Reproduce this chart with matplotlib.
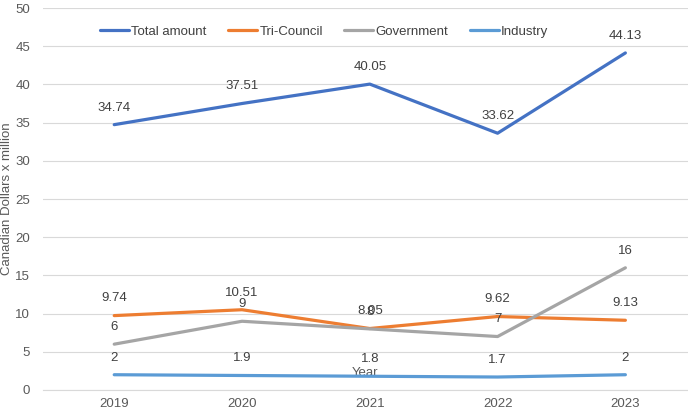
import matplotlib.pyplot as plt

plt.rcParams['font.family'] = ['Liberation Sans', 'DejaVu Sans']

years = ["2019", "2020", "2021", "2022", "2023"]
total = [34.74, 37.51, 40.05, 33.62, 44.13]
tri_council = [9.74, 10.51, 8.05, 9.62, 9.13]
government = [6, 9, 8, 7, 16]
industry = [2, 1.9, 1.8, 1.7, 2]

series = [
    ("Total amount", total, "#4472C4"),
    ("Tri-Council", tri_council, "#ED7D31"),
    ("Government", government, "#A5A5A5"),
    ("Industry", industry, "#5B9BD5"),
]

fig = plt.figure(figsize=(6.88, 4.16), dpi=100)
ax = fig.add_axes([0.062, 0.0625, 0.938, 0.918])

x = range(len(years))
for name, vals, color in series:
    ax.plot(x, vals, color=color, linewidth=2.3, label=name, solid_capstyle="round")
    for xi, v in zip(x, vals):
        ax.annotate(f"{v:g}", (xi, v), xytext=(0, 8), textcoords="offset points",
                    ha="center", va="bottom", fontsize=9.5, color="#404040")

ax.set_xlim(-0.56, 4.49)
ax.set_ylim(0, 50)
ax.set_yticks(range(0, 51, 5))
ax.set_xticks(list(x))
ax.set_xticklabels(years)
ax.tick_params(length=0, labelsize=9.5, colors="#595959")
ax.tick_params(axis="x", pad=6)
ax.tick_params(axis="y", pad=9)
ax.grid(axis="y", color="#D9D9D9", linewidth=0.8)
ax.set_axisbelow(True)
for s in ["top", "right", "left"]:
    ax.spines[s].set_visible(False)
ax.spines["bottom"].set_color("#D9D9D9")

ax.set_xlabel("Year", fontsize=9.5, color="#595959")
ax.xaxis.set_label_coords(0.5, 0.06)
ax.set_ylabel("Canadian Dollars x million", fontsize=9.5, color="#595959")
ax.yaxis.set_label_coords(-0.046, 0.5)

ax.legend(loc="upper center", bbox_to_anchor=(0.436, 0.985), ncol=4, frameon=False,
          fontsize=9.5, handlelength=2.2, handletextpad=0.2, columnspacing=1.6,
          labelcolor="#404040")

fig.savefig("out.png", dpi=100)
